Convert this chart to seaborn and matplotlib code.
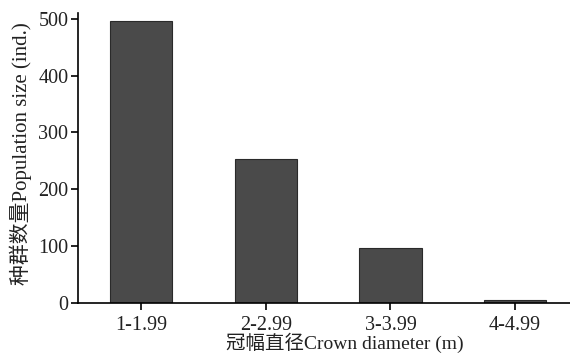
import matplotlib
matplotlib.use("Agg")
import matplotlib.pyplot as plt
import seaborn as sns
import pandas as pd

categories = ["1-1.99", "2-2.99", "3-3.99", "4-4.99"]
values = [496, 254, 97, 6]
yticks = [0, 100, 200, 300, 400, 500]

sns.set_theme(style="ticks")
plt.rcParams['font.family'] = ['Liberation Serif', 'Noto Sans CJK SC']
plt.rcParams['axes.unicode_minus'] = False

df = pd.DataFrame({"cat": categories, "val": values})

fig = plt.figure(figsize=(5.7, 3.58), dpi=100)
ax = fig.add_axes([0.137, 0.1536, 0.863, 0.81])
sns.barplot(data=df, x="cat", y="val", color="#4a4a4a", width=0.5,
            edgecolor="#2a2a2a", linewidth=0.8, saturation=1, ax=ax)
ax.set_xlim(-0.505, 3.44)
ax.set_ylim(0, 510)
ax.set_yticks(yticks)
ax.set_yticklabels([str(t) for t in yticks])
for s in ["top", "right"]:
    ax.spines[s].set_visible(False)
for s in ["left", "bottom"]:
    ax.spines[s].set_linewidth(1.2)
    ax.spines[s].set_color("black")
ax.tick_params(axis="both", direction="out", length=5, width=1.2, color="black",
               labelsize=14.5, pad=2, labelcolor="#222222")
ax.tick_params(axis="x", pad=4)
ax.set_xlabel("冠幅直径Crown diameter (m)", fontsize=14, color="#222222")
ax.set_ylabel("种群数量Population size (ind.)", fontsize=15, color="#222222")
ax.xaxis.set_label_coords(0.543, -0.102)
ax.yaxis.set_label_coords(-0.093, 0.515)
fig.savefig("out.png", dpi=100)
